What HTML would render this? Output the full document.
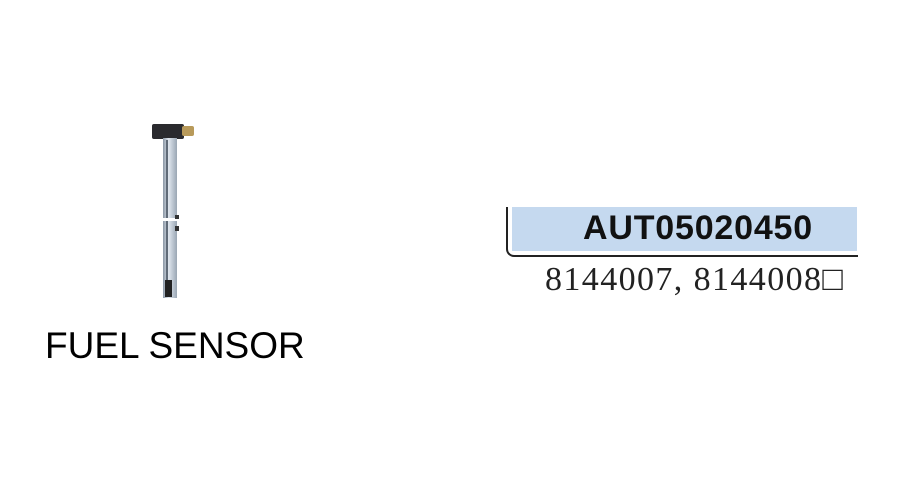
<!DOCTYPE html>
<html><head><style>
body{margin:0;width:900px;height:500px;background:#fff;position:relative;overflow:hidden;font-family:"Liberation Sans",sans-serif}
.a{position:absolute;white-space:nowrap}
</style></head><body>
<div class="a" style="left:152px;top:124px;width:32px;height:15px;background:#2a2a2e;border-radius:2px"></div>
<div class="a" style="left:182px;top:126px;width:12px;height:10px;background:#b89a5a;border-radius:2px"></div>
<div class="a" style="left:163px;top:138px;width:14px;height:160px;background:linear-gradient(90deg,#8a97a5,#dfe6ee 40%,#9aa6b3)"></div>
<div class="a" style="left:166px;top:140px;width:2px;height:155px;background:#606b78"></div>
<div class="a" style="left:162px;top:218px;width:16px;height:3px;background:#fff"></div>
<div class="a" style="left:175px;top:215px;width:4px;height:4px;background:#333"></div>
<div class="a" style="left:175px;top:226px;width:4px;height:5px;background:#333"></div>
<div class="a" style="left:165px;top:280px;width:7px;height:17px;background:#222"></div>
<div class="a" style="left:45px;top:325px;font-size:37px;color:#000">FUEL SENSOR</div>
<div class="a" style="left:506px;top:207px;width:350px;height:48px;border-left:2px solid #222;border-bottom:2px solid #222;border-bottom-left-radius:8px;background:#fff"></div>
<div class="a" style="left:512px;top:207px;width:345px;height:44px;background:#c5d9ef"></div>
<div class="a" style="left:583px;top:209px;font-weight:bold;font-size:34px;color:#111;letter-spacing:0.8px">AUT05020450</div>
<div class="a" style="left:545px;top:261px;font-family:'Liberation Serif',serif;font-size:34px;color:#222;letter-spacing:1.4px">8144007, 8144008□</div>
</body></html>
